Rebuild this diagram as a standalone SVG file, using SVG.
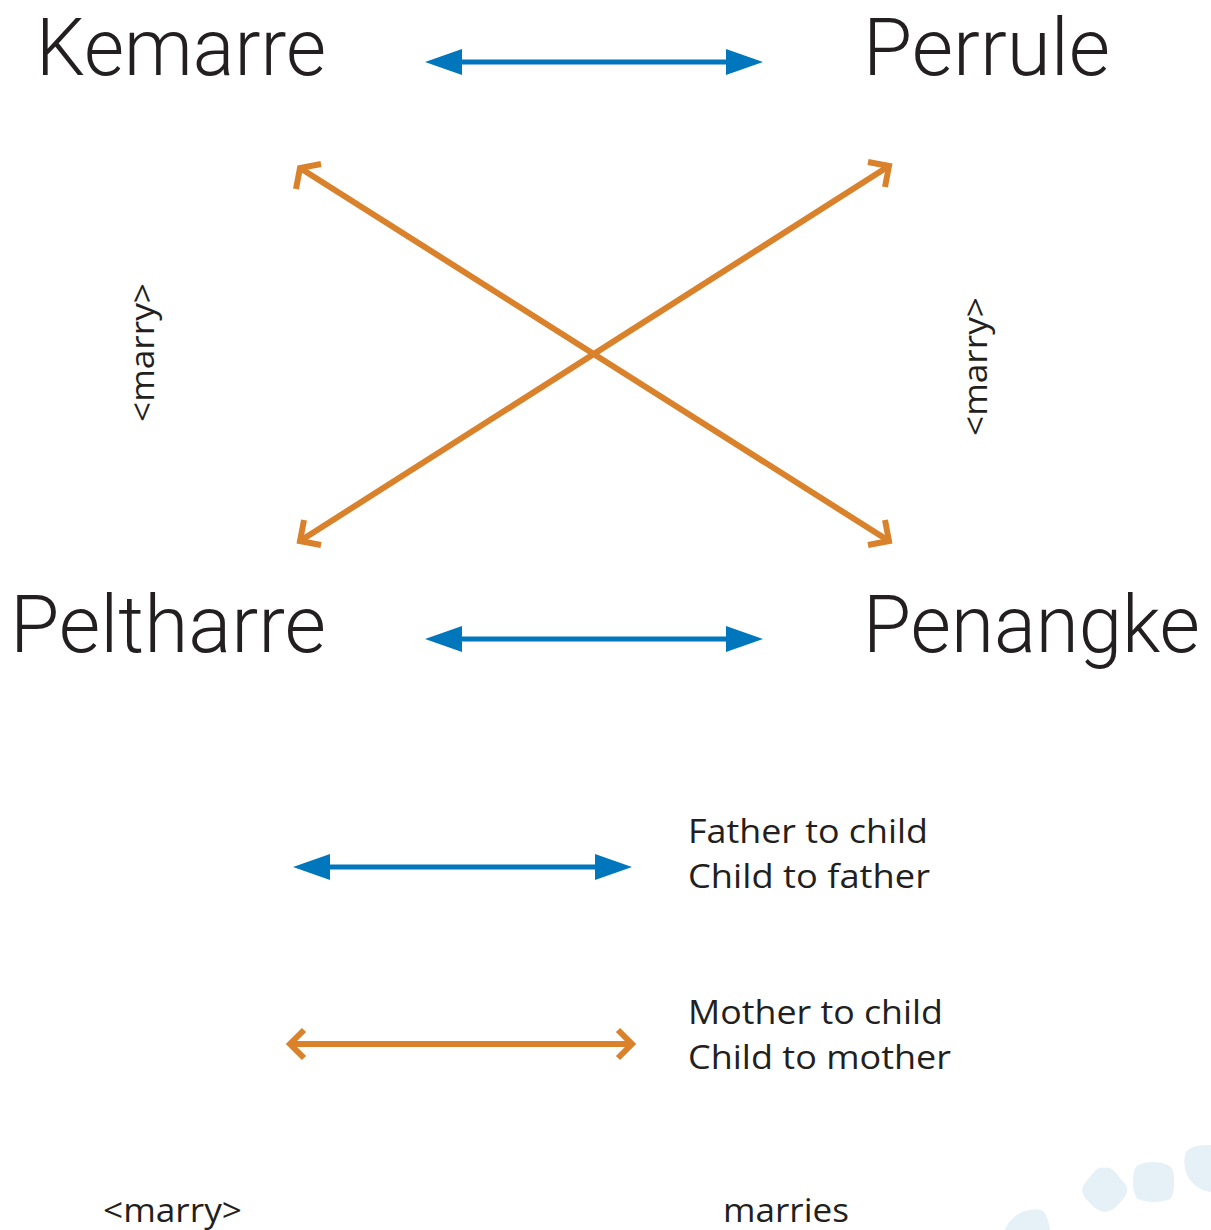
<svg xmlns="http://www.w3.org/2000/svg" width="1211" height="1230" viewBox="0 0 1211 1230">
<style>
.big{font-family:Roboto,"Open Sans",sans-serif;font-weight:300;font-size:80px;fill:#231f20}
.sm{font-family:"Open Sans","Noto Sans",sans-serif;font-weight:500;font-size:32px;fill:#231f20}
.blue{stroke:#0077bd;stroke-width:5;fill:none}
.orange{stroke:#d9822b;stroke-width:6;fill:none}
.chev{stroke:#d9822b;stroke-width:6;fill:none;stroke-linejoin:miter}
.blob{fill:#e5f0f7}
</style>
<defs>
<marker id="bh" viewBox="0 0 37 26" refX="0" refY="13" markerWidth="37" markerHeight="26" markerUnits="userSpaceOnUse" orient="auto-start-reverse">
<path d="M0,0 L37,13 L0,26 Z" fill="#0077bd"/>
</marker>
</defs>
<rect width="1211" height="1230" fill="#fff"/>
<g id="decor">
<path class="blob" d="M1104,1168 Q1110,1166 1116,1173 L1125,1184 Q1130,1190 1124,1198 L1116,1207 Q1104,1217 1093,1206 L1086,1199 Q1079,1190 1085,1183 L1094,1172 Q1099,1166 1104,1168 Z"/>
<path class="blob" d="M1138,1165 Q1153,1159 1168,1165 Q1175,1168 1174,1183 Q1174,1198 1168,1200 Q1153,1204 1140,1200 Q1133,1197 1133,1182 Q1133,1168 1138,1165 Z"/>
<path class="blob" d="M1211,1145 Q1192,1144 1186,1152 Q1182,1162 1187,1175 Q1195,1190 1211,1192 Z"/>
<path class="blob" d="M1005,1230 Q1012,1213 1030,1210 Q1040,1208 1044,1212 Q1049,1220 1050,1230 Z"/>
</g>
<g id="connectors">
<line class="blue" x1="462" y1="62" x2="726" y2="62" marker-start="url(#bh)" marker-end="url(#bh)"/>
<line class="blue" x1="462" y1="639" x2="726" y2="639" marker-start="url(#bh)" marker-end="url(#bh)"/>
<g id="orange-x1">
<line class="orange" x1="300" y1="168" x2="889" y2="541"/>
<polyline class="chev" points="296,189 300,168 321,164"/>
<polyline class="chev" points="868,545 889,541 885,520"/>
</g>
<g id="orange-x2">
<line class="orange" x1="889" y1="166" x2="300" y2="541"/>
<polyline class="chev" points="868,162 889,166 885,187"/>
<polyline class="chev" points="321,545 300,541 304,520"/>
</g>
</g>
<g id="node-kemarre"><text class="big" x="36" y="75" textLength="290" lengthAdjust="spacingAndGlyphs">Kemarre</text></g>
<g id="node-perrule"><text class="big" x="863" y="75" textLength="247" lengthAdjust="spacingAndGlyphs">Perrule</text></g>
<g id="node-peltharre"><text class="big" x="10" y="652" textLength="316" lengthAdjust="spacingAndGlyphs">Peltharre</text></g>
<g id="node-penangke"><text class="big" x="863" y="652" textLength="337" lengthAdjust="spacingAndGlyphs">Penangke</text></g>
<g id="label-marry-left"><text class="sm" transform="translate(154,422) rotate(-90)" textLength="139" lengthAdjust="spacingAndGlyphs">&lt;marry&gt;</text></g>
<g id="label-marry-right"><text class="sm" transform="translate(987,436) rotate(-90)" textLength="139" lengthAdjust="spacingAndGlyphs">&lt;marry&gt;</text></g>
<g id="legend">
<line class="blue" x1="330" y1="867" x2="595" y2="867" marker-start="url(#bh)" marker-end="url(#bh)"/>
<text class="sm" x="688" y="843" textLength="240" lengthAdjust="spacingAndGlyphs">Father to child</text>
<text class="sm" x="688" y="888" textLength="242" lengthAdjust="spacingAndGlyphs">Child to father</text>
<line class="orange" x1="290" y1="1044" x2="632" y2="1044"/>
<polyline class="chev" points="304,1030 290,1044 304,1058"/>
<polyline class="chev" points="618,1030 632,1044 618,1058"/>
<text class="sm" x="688" y="1024" textLength="255" lengthAdjust="spacingAndGlyphs">Mother to child</text>
<text class="sm" x="688" y="1069" textLength="263" lengthAdjust="spacingAndGlyphs">Child to mother</text>
<text class="sm" x="103" y="1222" textLength="139" lengthAdjust="spacingAndGlyphs">&lt;marry&gt;</text>
<text class="sm" x="723" y="1222" textLength="126" lengthAdjust="spacingAndGlyphs">marries</text>
</g>
</svg>
